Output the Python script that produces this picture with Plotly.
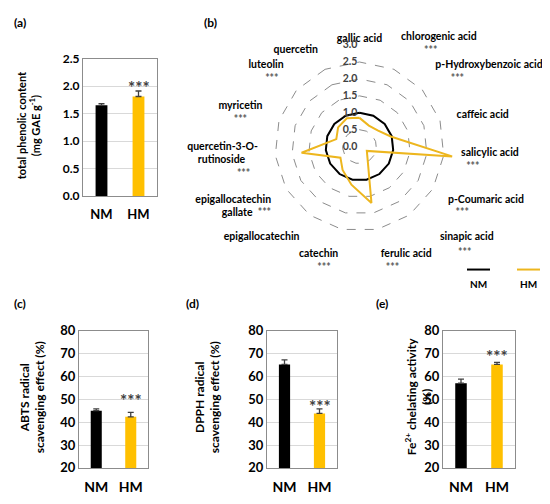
import plotly.graph_objects as go

# page body keeps an 8px margin, so the figure is a bit smaller than the window
OFF = 8
W, H = 550 - OFF, 504 - OFF

# ---- data ----
groups = ["NM", "HM"]
tpc_mean = [1.65, 1.81]
tpc_err = [0.03, 0.10]
abts_mean = [45.0, 42.3]
abts_err = [0.8, 2.0]
dpph_mean = [65.2, 43.8]
dpph_err = [2.0, 2.0]
fe_mean = [57.0, 65.2]
fe_err = [1.8, 0.9]

compounds = ["gallic acid", "chlorogenic acid", "p-Hydroxybenzoic acid", "caffeic acid",
             "salicylic acid", "p-Coumaric acid", "sinapic acid", "ferulic acid",
             "catechin", "epigallocatechin", "epigallocatechin gallate",
             "quercetin-3-O-rutinoside", "myricetin", "luteolin", "quercetin"]
nm_rel = [1.0, 1.0, 1.0, 1.0, 1.0, 1.0, 1.0, 1.0, 1.0, 1.0, 1.0, 1.0, 1.0, 1.0, 1.0]
hm_rel = [0.85, 0.68, 0.72, 0.97, 2.75, 0.25, 0.40, 1.70, 1.15, 0.85, 0.65, 1.72, 0.72, 0.85, 0.92]
significant = [False, True, True, False, True, True, True, True, True, False, True, True, True, True, False]

BLACK = "#000000"
GOLD = "#FFC000"
RADAR_GOLD = "#EDB61E"
FONT = "Lato"
SP = "\u00a0"  # non-breaking space, used to nudge the *** under the radar labels
STARS = "<span style='color:#595959'>***</span>"


def px_x(v):
    return (v - OFF) / W


def px_y(v):
    return 1 - (v - OFF) / H


def note(x, y, text, size, color="#000", **kw):
    # paper annotation centred on a pixel position of the reference
    return dict(x=px_x(x), y=px_y(y), xref="paper", yref="paper", text=text, showarrow=False,
                xanchor="center", yanchor="middle", font=dict(size=size, family=FONT, color=color), **kw)


fig = go.Figure()

# bar panels: axis id, means, errs, ylabel, x px range, y px range, ymin, ymax, dtick, fontsize,
#             star gap, title x, tag, tag position
panels = [
    ("", tpc_mean, tpc_err, "total phenolic content<br>(mg GAE g<sup>-1</sup>)", (83, 157), (52, 194),
     0, 2.5, 0.5, 11, 4, 28, "(a)", (20, 15)),
    ("2", abts_mean, abts_err, "ABTS radical<br>scavenging effect (%)", (79, 148), (333, 475),
     20, 80, 10, 12, 12, 32, "(c)", (20, 305)),
    ("3", dpph_mean, dpph_err, "DPPH radical<br>scavenging effect (%)", (267, 337), (333, 475),
     20, 80, 10, 12, 2, 207, "(d)", (192, 305)),
    ("4", fe_mean, fe_err, "Fe<sup>2+</sup> chelating activity<br>(%)", (443, 515), (333, 475),
     20, 80, 10, 12, 6, 419, "(e)", (382, 305)),
]

annotations = []
for ax, means, errs, ylabel, xr, yr, ymin, ymax, dt, fs, sgap, title_x, tag, tag_pos in panels:
    fig.add_trace(go.Bar(
        x=groups, y=means,
        marker=dict(color=[BLACK, GOLD], line=dict(width=0)),
        width=0.32,
        error_y=dict(type="data", symmetric=False, array=errs, arrayminus=[0, 0],
                     color="#404040", thickness=1.3, width=3),
        xaxis="x" + ax, yaxis="y" + ax, showlegend=False,
    ))
    fig.update_layout(**{
        "xaxis" + ax: dict(domain=[px_x(xr[0]), px_x(xr[1])], anchor="y" + ax,
                           range=[-0.5, 1.5], showline=True, linecolor="#8c8c8c", linewidth=1,
                           mirror=True, ticks="", ticklabelstandoff=6,
                           tickfont=dict(size=fs + 2, family=FONT, color="#000")),
        "yaxis" + ax: dict(domain=[px_y(yr[1]), px_y(yr[0])], anchor="x" + ax,
                           range=[ymin, ymax], dtick=dt, tickformat=".1f" if ax == "" else "d",
                           showline=True, linecolor="#8c8c8c", linewidth=1, mirror=True,
                           gridcolor="#d9d9d9", zeroline=False, ticks="",
                           tickfont=dict(size=fs + 1, family=FONT, color="#000")),
    })
    # significance stars
    annotations.append(dict(x="HM", y=means[1] + errs[1], xref="x" + ax, yref="y" + ax,
                            text="***", showarrow=False, yanchor="middle", yshift=sgap,
                            font=dict(size=17, color="#404040", family=FONT)))
    # axis title and panel tag
    annotations.append(note(title_x, (yr[0] + yr[1]) / 2 - 2, ylabel, fs, textangle=-90))
    annotations.append(note(tag_pos[0], tag_pos[1], tag, 12))

# ---- radar (b) ----
labels = [c + ("<br>" + STARS if s else "") for c, s in zip(compounds, significant)]
labels[1] = "chlorogenic acid<br>" + SP * 9 + STARS
labels[2] = "p-Hydroxybenzoic acid<br>" + SP * 6 + STARS
labels[4] = "salicylic acid<br>" + SP * 2 + STARS
labels[5] = "p-Coumaric acid<br>" + SP * 3 + STARS
labels[6] = SP * 8 + "sinapic acid"          # its *** is added below, clear of ferulic acid
labels[7] = "ferulic acid<br>" + SP * 2 + STARS
labels[8] = "catechin<br>" + STARS + SP * 3
labels[10] = "epigallocatechin<br>gallate" + SP * 2 + STARS
labels[11] = "quercetin-3-O-<br>rutinoside" + SP * 5 + "<br>" + STARS + SP * 3
labels[12] = "myricetin<br>" + STARS + SP * 6
labels[13] = "luteolin<br>" + STARS + SP * 2
theta = labels + [labels[0]]
fig.add_trace(go.Scatterpolar(r=nm_rel + [nm_rel[0]], theta=theta, mode="lines",
                              line=dict(color=BLACK, width=2), showlegend=False))
fig.add_trace(go.Scatterpolar(r=hm_rel + [hm_rel[0]], theta=theta, mode="lines",
                              line=dict(color=RADAR_GOLD, width=2), showlegend=False))

cx, cy, R = 359.5, 143, 105
fig.update_layout(polar=dict(
    domain=dict(x=[px_x(cx - R), px_x(cx + R)], y=[px_y(cy + R), px_y(cy - R)]),
    gridshape="linear", bgcolor="white",
    radialaxis=dict(range=[0, 3.001], tickvals=[0, 0.5, 1, 1.5, 2, 2.5, 3], tickformat=".1f",
                    angle=90, side="counterclockwise", tickangle=90,
                    showline=False, gridcolor="#8c8c8c", griddash="dash", ticks="",
                    tickfont=dict(size=10.5, color="#404040", family=FONT)),
    angularaxis=dict(direction="clockwise", rotation=90, showgrid=False, showline=False, ticks="",
                     tickfont=dict(size=10.5, color="#000", family=FONT)),
))
annotations.append(note(210, 15, "(b)", 12))
annotations.append(note(464, 252, STARS, 10.5))

# radar legend
shapes = [
    dict(type="line", xref="paper", yref="paper", x0=px_x(467), x1=px_x(490), y0=px_y(270), y1=px_y(270),
         line=dict(color=BLACK, width=2)),
    dict(type="line", xref="paper", yref="paper", x0=px_x(517), x1=px_x(540), y0=px_y(270), y1=px_y(270),
         line=dict(color=RADAR_GOLD, width=2)),
]
annotations.append(note(478, 285, "NM", 10))
annotations.append(note(528, 285, "HM", 10))

fig.update_layout(
    width=W, height=H,
    margin=dict(l=0, r=0, t=0, b=0),
    paper_bgcolor="white", plot_bgcolor="white",
    font=dict(family=FONT, weight="bold", color="#000"),
    annotations=annotations, shapes=shapes,
)

fig.write_html("out.html")
